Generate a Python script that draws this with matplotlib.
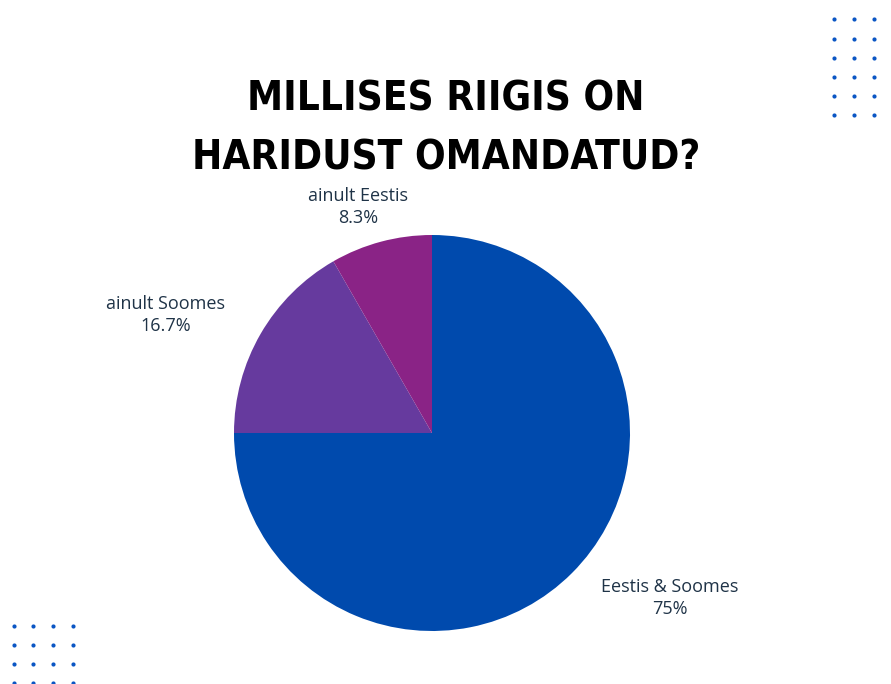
import numpy as np
import matplotlib.pyplot as plt

# date
categorii = ["Eestis & Soomes", "ainult Soomes", "ainult Eestis"]
procente = [75, 16.7, 8.3]
etichete_proc = ["75%", "16.7%", "8.3%"]
culori = ["#004AAD", "#663A9E", "#8A2386"]

W, H = 891, 684
fig = plt.figure(figsize=(W / 100, H / 100), dpi=100)
ax = fig.add_axes([0, 0, 1, 1])

# placinta
cx, cy, r = 432, H - 433, 198
ax.pie(procente, colors=culori, startangle=90, counterclock=False,
       center=(cx, cy), radius=r, frame=True,
       wedgeprops=dict(linewidth=0))
ax.set_xlim(0, W)
ax.set_ylim(0, H)
ax.set_aspect("equal")
ax.axis("off")

# etichete
poz_etichete = [(670, H - 598), (166, H - 315), (358, H - 207)]
for cat, p, (x, y) in zip(categorii, etichete_proc, poz_etichete):
    ax.text(x, y, cat + "\n" + p, ha="center", va="center",
            fontsize=13, family="Open Sans", color="#1F3347",
            linespacing=1.35)

# titlu
fig.text(446 / W, 1 - 129 / H, "MILLISES RIIGIS ON\nHARIDUST OMANDATUD?",
         ha="center", va="center", fontsize=29, fontweight="heavy",
         fontstretch="condensed", family="DejaVu Sans", color="black",
         linespacing=1.6)

# puncte decorative
px, py = np.meshgrid([834, 854, 874], [19, 39, 58, 77, 96, 115])
ax.scatter(px.ravel(), H - py.ravel(), s=9, color="#0B56C4", linewidths=0)
px2, py2 = np.meshgrid([14, 33, 53, 73], [626, 645, 664, 683])
ax.scatter(px2.ravel(), H - py2.ravel(), s=9, color="#0B56C4", linewidths=0)

fig.savefig("out.png", dpi=100)
